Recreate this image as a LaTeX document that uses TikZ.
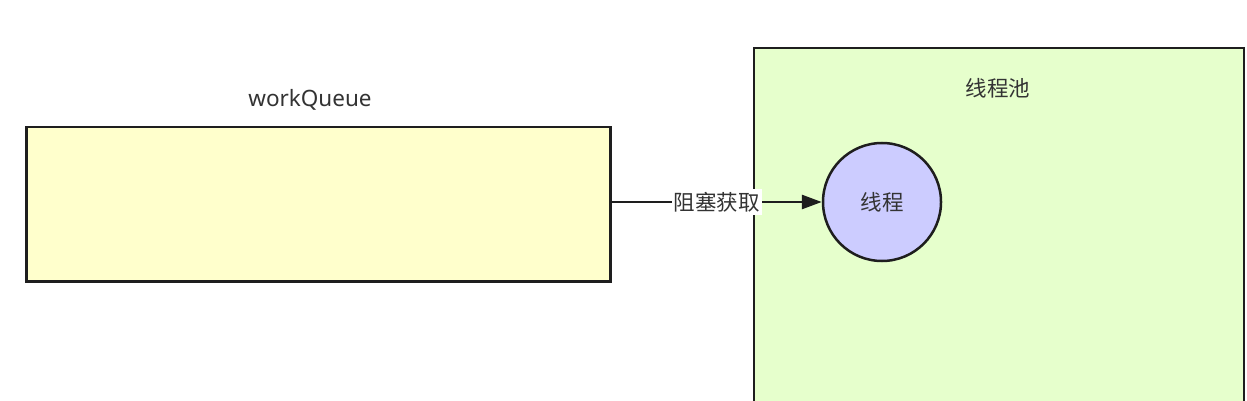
\documentclass[tikz,border=0pt]{standalone}
\usepackage{fontspec}
\setmainfont{Noto Sans CJK SC}
\newfontfamily\latinfont{Noto Sans}
\usetikzlibrary{arrows.meta}
\definecolor{qfill}{HTML}{FFFFCC}
\definecolor{pfill}{HTML}{E6FFCC}
\definecolor{tfill}{HTML}{CCCCFF}
\definecolor{edge}{HTML}{1E1E1E}
\definecolor{txt}{HTML}{333333}
\tikzset{
  box/.style={draw=edge, line width=2.5pt, inner sep=0pt},
  lbl/.style={text=txt, font=\fontsize{21.5}{24}\selectfont, inner sep=1pt},
}
\begin{document}
\begin{tikzpicture}[x=1pt,y=-1pt]
\useasboundingbox (0,0) rectangle (1247,401);
\clip (0,0) rectangle (1247,401);
\fill[white] (0,0) rectangle (1247,401);
% thread pool box (bottom cut off)
\draw[box, fill=pfill] (754,48) rectangle (1244,420);
\node[box, fill=qfill, minimum width=584pt, minimum height=154pt, anchor=north west] (queue) at (25,126) {};
\node[lbl, font=\latinfont\fontsize{22.5}{26}\selectfont] (qlabel) at (310,100) {workQueue};
\node[lbl] (plabel) at (998,88) {线程池};
\node[box, circle, fill=tfill, minimum size=118pt] (thread) at (882,202) {};
\node[lbl] at (thread.center) {线程};
\draw[line width=2.8pt, draw=edge, -{Triangle[length=20pt,width=14pt]}] (queue.east |- thread.west) -- node[lbl, fill=white, inner xsep=2pt, inner ysep=3pt] (alabel) {阻塞获取} (thread.west);
\end{tikzpicture}
\end{document}
